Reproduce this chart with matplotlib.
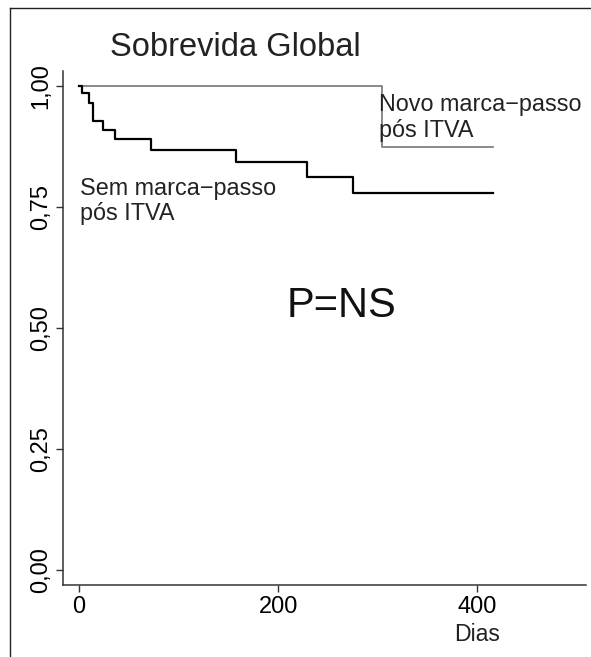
import matplotlib
matplotlib.use("Agg")
import matplotlib.pyplot as plt
from matplotlib.lines import Line2D
from matplotlib.transforms import blended_transform_factory

plt.rcParams['font.family'] = ['Liberation Sans', 'DejaVu Sans']

# Kaplan-Meier steps (days, survival)
sem_days = [0, 2.7, 10.4, 14.4, 23.8, 36.5, 72.4, 157.8, 228.8, 275, 416]
sem_surv = [1.0, 0.985, 0.965, 0.928, 0.909, 0.891, 0.868, 0.844, 0.812, 0.780, 0.780]

novo_days = [0, 304.5, 416]
novo_surv = [1.0, 0.875, 0.875]

yticks = [0, 0.25, 0.5, 0.75, 1.0]
ytick_labels = ["0,00", "0,25", "0,50", "0,75", "1,00"]
xticks = [0, 200, 400]

fig = plt.figure(figsize=(5.91, 6.57), dpi=100)
ax = fig.add_axes([63 / 591, 1 - 585 / 657, (586 - 63) / 591, (585 - 70.7) / 657])

ax.step(novo_days, novo_surv, where='post', color='#808080', lw=1.3)
ax.step(sem_days, sem_surv, where='post', color='black', lw=1.6)

ax.set_xlim(-16, 509)
ax.set_ylim(-0.031, 1.032)
ax.set_xticks(xticks)
ax.set_yticks(yticks)
ax.set_yticklabels(ytick_labels, rotation=90, va='center')
ax.tick_params(labelsize=17, length=5, width=1.0, color='#333333', pad=3)

for s in ['top', 'right']:
    ax.spines[s].set_visible(False)
for s in ['left', 'bottom']:
    ax.spines[s].set_linewidth(1.1)
    ax.spines[s].set_color('#333333')

ax.text(301, 0.985, "Novo marca−passo\npós ITVA", fontsize=16.8, va='top', ha='left',
        linespacing=1.12, color='#222222')
ax.text(1, 0.812, "Sem marca−passo\npós ITVA", fontsize=16.8, va='top', ha='left',
        linespacing=1.12, color='#222222')
ax.text(264, 0.545, "P=NS", fontsize=30, va='center', ha='center', color='#111111')

trans = blended_transform_factory(ax.transData, ax.transAxes)
ax.text(400, -0.097, "Dias", fontsize=16.6, ha='center', va='center', transform=trans,
        color='#222222')

fig.text(110 / 591, 1 - 47 / 657, "Sobrevida Global", fontsize=23.5, ha='left', va='center',
         color='#222222')

# outer frame (left and top only, as in the picture)
fig.add_artist(Line2D([10 / 591, 10 / 591], [0, 1 - 8 / 657], transform=fig.transFigure,
                      color='#222222', lw=1.0))
fig.add_artist(Line2D([10 / 591, 1], [1 - 8 / 657, 1 - 8 / 657], transform=fig.transFigure,
                      color='#222222', lw=1.0))

fig.savefig("out.png", dpi=100)
